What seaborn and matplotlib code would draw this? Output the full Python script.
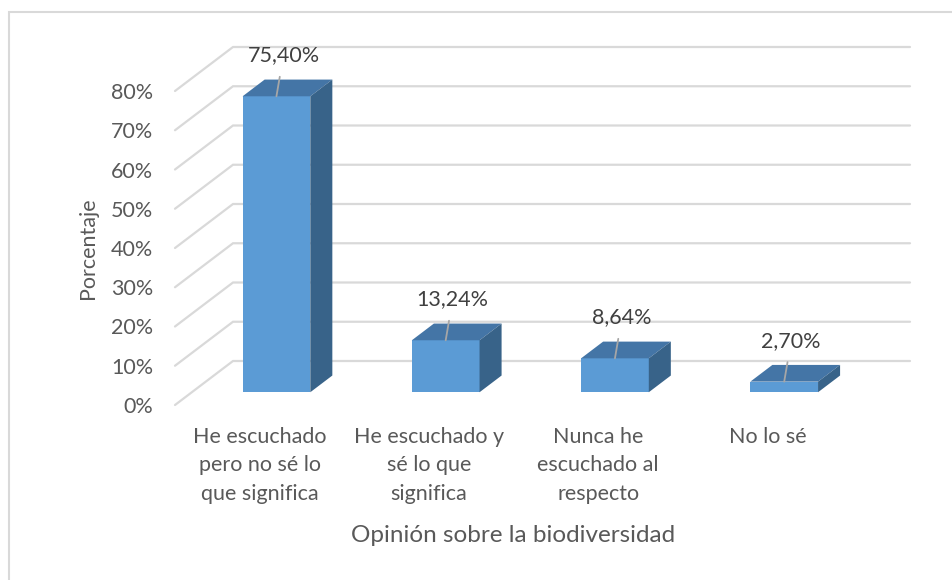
import numpy as np
import pandas as pd
import matplotlib.pyplot as plt
import seaborn as sns
from matplotlib.patches import Polygon, Rectangle

# Data
categories = ["He escuchado\npero no sé lo\nque significa",
              "He escuchado y\nsé lo que\nsignifica",
              "Nunca he\nescuchado al\nrespecto",
              "No lo sé"]
percentages = [75.40, 13.24, 8.64, 2.70]
y_ticks = [0, 10, 20, 30, 40, 50, 60, 70, 80]
x_title = "Opinión sobre la biodiversidad"
y_title = "Porcentaje"

df = pd.DataFrame({"cat": categories, "pct": percentages})

# Pseudo-3D layout (pixels)
W, H = 953, 580
PX_CAT = 169.25          # px per category
PX_PCT = 3.925           # px per percent
X0, Y0 = 175, 405        # front-left corner of the wall at 0%
DEPTH_X, DEPTH_Y = 58, 44
D_FRONT, D_BACK = 0.29, 0.67
DX = DEPTH_X / PX_CAT    # depth shift in data units
DY = DEPTH_Y / PX_PCT

FRONT = "#5B9BD5"
TOP = "#4475A6"
SIDE = "#386389"
GRID = "#D9D9D9"
TEXT = "#595959"


def proj(x, v, d):
    return x + (d - D_FRONT) * DX, v + (d - D_FRONT) * DY


sns.set_theme(style="white")
plt.rcParams["font.family"] = ["Lato", "DejaVu Sans"]

fig = plt.figure(figsize=(W / 100, H / 100), dpi=100)
left, right, top, bottom = 165, 935, 20, 420
ax = fig.add_axes([left / W, 1 - bottom / H, (right - left) / W, (bottom - top) / H])

n = len(categories)
sns.barplot(data=df, x="cat", y="pct", color=FRONT, saturation=1,
            width=0.40, linewidth=0, ax=ax, zorder=3)

# walls / gridlines
for t in y_ticks:
    xa, ya = proj(-0.5, t, 0)
    xb, yb = proj(-0.5, t, 1)
    xc, yc = proj(n - 0.5, t, 1)
    ax.plot([xa, xb, xc], [ya, yb, yc], color=GRID, lw=1.6, zorder=1,
            solid_joinstyle="miter")

ddx = (D_BACK - D_FRONT) * DX
ddy = (D_BACK - D_FRONT) * DY
for p, v in zip(ax.patches[:n], percentages):
    x0, w, h = p.get_x(), p.get_width(), p.get_height()
    ax.add_patch(Polygon([(x0, h), (x0 + w, h), (x0 + w + ddx, h + ddy), (x0 + ddx, h + ddy)],
                         closed=True, facecolor=TOP, edgecolor="none", zorder=3))
    ax.add_patch(Polygon([(x0 + w, 0), (x0 + w, h), (x0 + w + ddx, h + ddy), (x0 + w + ddx, ddy)],
                         closed=True, facecolor=SIDE, edgecolor="none", zorder=3))
    label = f"{v:.2f}%".replace(".", ",")
    ax.annotate(label, xy=(x0 + w / 2, h), xytext=(7, 41), textcoords="offset pixels",
                ha="center", va="center", fontsize=15.5, color="#404040", zorder=5,
                arrowprops=dict(arrowstyle="-", color="#A6A6A6", lw=1.3,
                                shrinkA=6, shrinkB=0))

# limits after seaborn so the 3D frame maps onto the pixel layout
cx = X0 + 0.5 * PX_CAT + DEPTH_X * D_FRONT
cy = Y0 - DEPTH_Y * D_FRONT
ax.set_xlim((left - cx) / PX_CAT, (right - cx) / PX_CAT)
ax.set_ylim((cy - bottom) / PX_PCT, (cy - top) / PX_PCT)

# axes ticks placed on the front plane
ax.set_yticks([proj(-0.5, t, 0)[1] for t in y_ticks], [f"{t}%" for t in y_ticks])
ax.set_xticks([proj(i, 0, 0)[0] for i in range(n)], categories)
ax.tick_params(axis="y", length=0, pad=8.6, labelsize=15.5, labelcolor=TEXT)
ax.tick_params(axis="x", length=0, pad=5, labelsize=15.5, labelcolor=TEXT)
for lab in ax.get_xticklabels():
    lab.set_linespacing(1.53)

ax.set_xlabel(x_title, fontsize=17.5, color=TEXT, va="center")
ax.xaxis.set_label_coords((513 - left) / (right - left), (bottom - 536) / (bottom - top))
ax.set_ylabel(y_title, fontsize=15.5, color=TEXT, va="center")
ax.yaxis.set_label_coords((88 - left) / (right - left), (bottom - 248) / (bottom - top))

sns.despine(ax=ax, left=True, bottom=True)
ax.grid(False)

# chart border
fig.add_artist(Rectangle((9 / W, -0.1), 1.2, 1 - 12 / H + 0.1, transform=fig.transFigure,
                         fill=False, edgecolor=GRID, lw=1.5))

fig.savefig("out.png", dpi=100)
